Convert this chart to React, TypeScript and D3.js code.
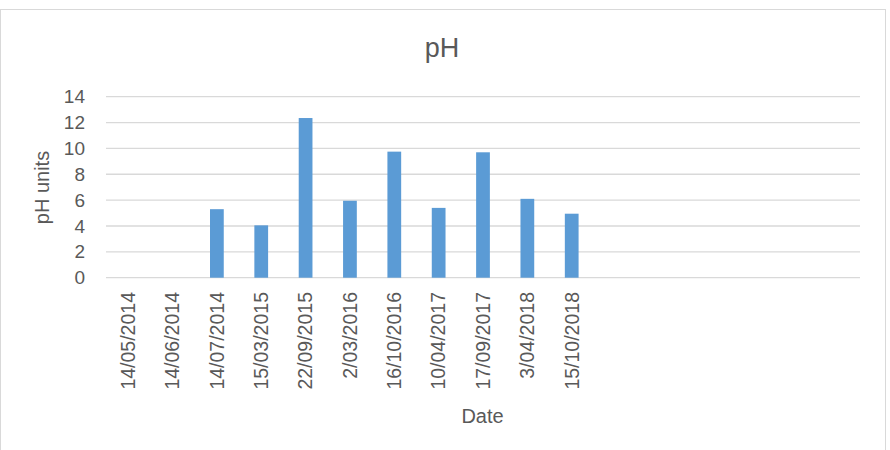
import React from "react";
import * as d3 from "d3";

const categories = [
  "14/05/2014", "14/06/2014", "14/07/2014", "15/03/2015", "22/09/2015",
  "2/03/2016", "16/10/2016", "10/04/2017", "17/09/2017", "3/04/2018",
  "15/10/2018", "", " ", "  ", "   ", "    ", "     ",
];
const values: (number | null)[] = [
  null, null, 5.3, 4.05, 12.35, 5.95, 9.75, 5.4, 9.7, 6.1, 4.95,
  null, null, null, null, null, null,
];
const yTicks = [0, 2, 4, 6, 8, 10, 12, 14];

const W = 890, H = 450;
const left = 106, right = 860, top = 96.7, bottom = 277.7;
const FONT = "'Liberation Sans', Arial, sans-serif";
const TXT = "#595959";

export default function App() {
  const x = d3.scaleBand<string>().domain(categories).range([left, right]).paddingInner(0.69).paddingOuter(0.345);
  const y = d3.scaleLinear().domain([0, 14]).range([bottom, top]);
  const bw = x.bandwidth();
  return (
    <svg width={W} height={H} style={{ position: "absolute", left: 0, top: 0, background: "#fff" }}>
      <rect x={0.5} y={9.5} width={885} height={460} fill="#fff" stroke="#d9d9d9" strokeWidth={1} />
      <text x={442} y={57} textAnchor="middle" fontFamily={FONT} fontSize={27} fill={TXT}>pH</text>
      {yTicks.map((t) => (
        <g key={t}>
          <line x1={left} x2={right} y1={y(t)} y2={y(t)} stroke="#d9d9d9" strokeWidth={1.3} />
          <text x={85} y={y(t)} dy="0.35em" textAnchor="end" fontFamily={FONT} fontSize={19} fill={TXT}>{t}</text>
        </g>
      ))}
      {categories.map((c, i) => {
        const v = values[i];
        const cx = (x(c) as number) + bw / 2;
        return (
          <g key={i}>
            {v != null && (
              <rect x={x(c)} y={y(v)} width={bw} height={y(0) - y(v)} fill="#5B9BD5" />
            )}
            {c.trim() !== "" && (
              <text transform={`translate(${cx},${292}) rotate(-90)`} dy="0.35em" textAnchor="end"
                fontFamily={FONT} fontSize={19.5} fill={TXT}>{c}</text>
            )}
          </g>
        );
      })}
      <text transform={`translate(49,187.5) rotate(-90)`} textAnchor="middle" fontFamily={FONT} fontSize={20} fill={TXT}>pH units</text>
      <text x={482.5} y={423} textAnchor="middle" fontFamily={FONT} fontSize={20} fill={TXT}>Date</text>
    </svg>
  );
}
